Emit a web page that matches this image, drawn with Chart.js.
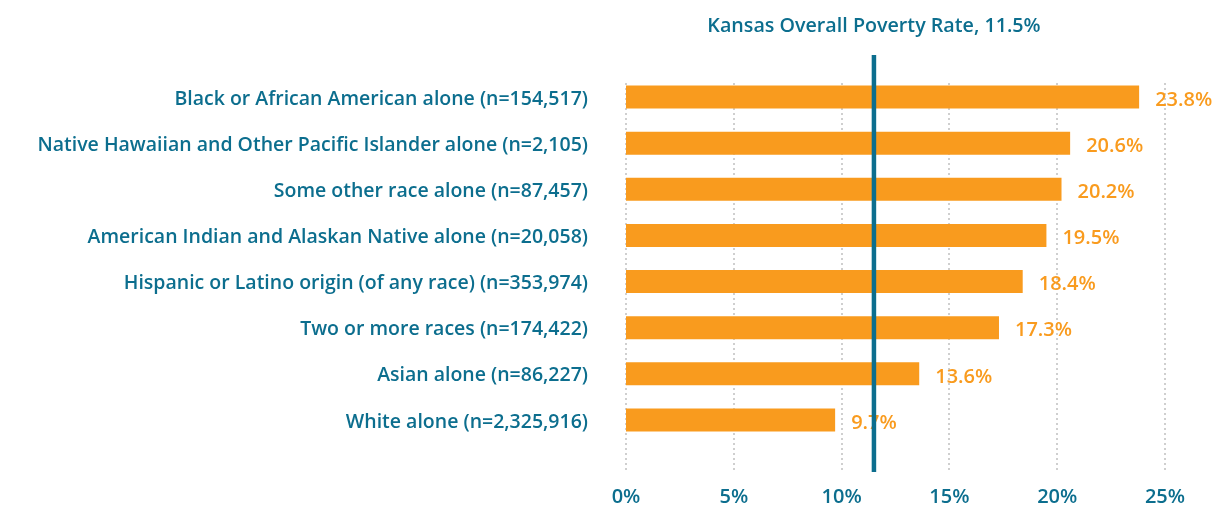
<!DOCTYPE html>
<html>
<head>
<meta charset="utf-8">
<script src="https://cdn.jsdelivr.net/npm/chart.js@4/dist/chart.umd.min.js"></script>
<style>
  html, body { margin: 0; padding: 0; background: #ffffff; }
  #wrap { width: 1222px; height: 506px; position: relative; }
</style>
</head>
<body>
<div id="wrap"><canvas id="c"></canvas></div>
<script>
// ---- data ----
const categories = [
  "Black or African American alone (n=154,517)",
  "Native Hawaiian and Other Pacific Islander alone (n=2,105)",
  "Some other race alone (n=87,457)",
  "American Indian and Alaskan Native alone (n=20,058)",
  "Hispanic or Latino origin (of any race) (n=353,974)",
  "Two or more races (n=174,422)",
  "Asian alone (n=86,227)",
  "White alone (n=2,325,916)"
];
const povertyRates = [23.8, 20.6, 20.2, 19.5, 18.4, 17.3, 13.6, 9.7];
const overallRate = 11.5;
const overallLabel = "Kansas Overall Poverty Rate, 11.5%";
const xTicks = [0, 5, 10, 15, 20, 25];

const ORANGE = "#F99B1E";
const TEAL = "#0C6E8E";
const FONT = "'Open Sans', Lato, sans-serif";

const overlay = {
  id: "overlay",
  beforeDatasetsDraw(chart) {
    const { ctx, chartArea, scales } = chart;
    const x = scales.x;
    ctx.save();
    ctx.strokeStyle = "#cfcfcf";
    ctx.lineWidth = 2;
    ctx.setLineDash([2, 3]);
    xTicks.forEach(v => {
      const px = Math.round(x.getPixelForValue(v));
      ctx.beginPath();
      ctx.moveTo(px, chartArea.top + 9);
      ctx.lineTo(px, chartArea.bottom + 27);
      ctx.stroke();
    });
    ctx.restore();
  },
  afterDatasetsDraw(chart) {
    const { ctx, chartArea, scales } = chart;
    const x = scales.x;
    ctx.save();
    // value labels
    const meta = chart.getDatasetMeta(0);
    ctx.fillStyle = ORANGE;
    ctx.font = "600 20px " + FONT;
    ctx.textAlign = "left";
    ctx.textBaseline = "middle";
    meta.data.forEach((bar, i) => {
      ctx.fillText(povertyRates[i].toFixed(1) + "%", bar.x + 16, bar.y + 3);
    });
    // overall line
    const lx = x.getPixelForValue(overallRate);
    ctx.strokeStyle = TEAL;
    ctx.lineWidth = 4.5;
    ctx.beginPath();
    ctx.moveTo(lx, chartArea.top - 19);
    ctx.lineTo(lx, chartArea.bottom + 29);
    ctx.stroke();
    // title
    ctx.fillStyle = TEAL;
    ctx.font = "600 19.7px " + FONT;
    ctx.textAlign = "center";
    ctx.textBaseline = "middle";
    ctx.fillText(overallLabel, lx, 26);
    ctx.restore();
  }
};

new Chart(document.getElementById("c"), {
  type: "bar",
  data: {
    labels: categories,
    datasets: [{
      data: povertyRates,
      backgroundColor: ORANGE,
      borderWidth: 0,
      categoryPercentage: 1.0,
      barPercentage: 0.5
    }]
  },
  options: {
    indexAxis: "y",
    responsive: true,
    maintainAspectRatio: false,
    animation: false,
    layout: { padding: { top: 74, right: 57, bottom: 0, left: 0 } },
    plugins: { legend: { display: false }, tooltip: { enabled: false } },
    scales: {
      x: {
        type: "linear",
        min: 0,
        max: 25,
        afterBuildTicks(s) { s.ticks = xTicks.map(v => ({ value: v })); },
        afterFit(s) { s.height = 63; },
        grid: { display: false },
        border: { display: false },
        ticks: {
          padding: 34,
          color: TEAL,
          font: { family: FONT, size: 20, weight: "600" },
          callback: v => v + "%"
        }
      },
      y: {
        afterFit(s) { s.width = 626; },
        grid: { display: false },
        border: { display: false },
        ticks: {
          padding: 30,
          labelOffset: 2,
          color: TEAL,
          font: { family: FONT, size: 19.5, weight: "600" }
        }
      }
    }
  },
  plugins: [overlay]
});
</script>
</body>
</html>
